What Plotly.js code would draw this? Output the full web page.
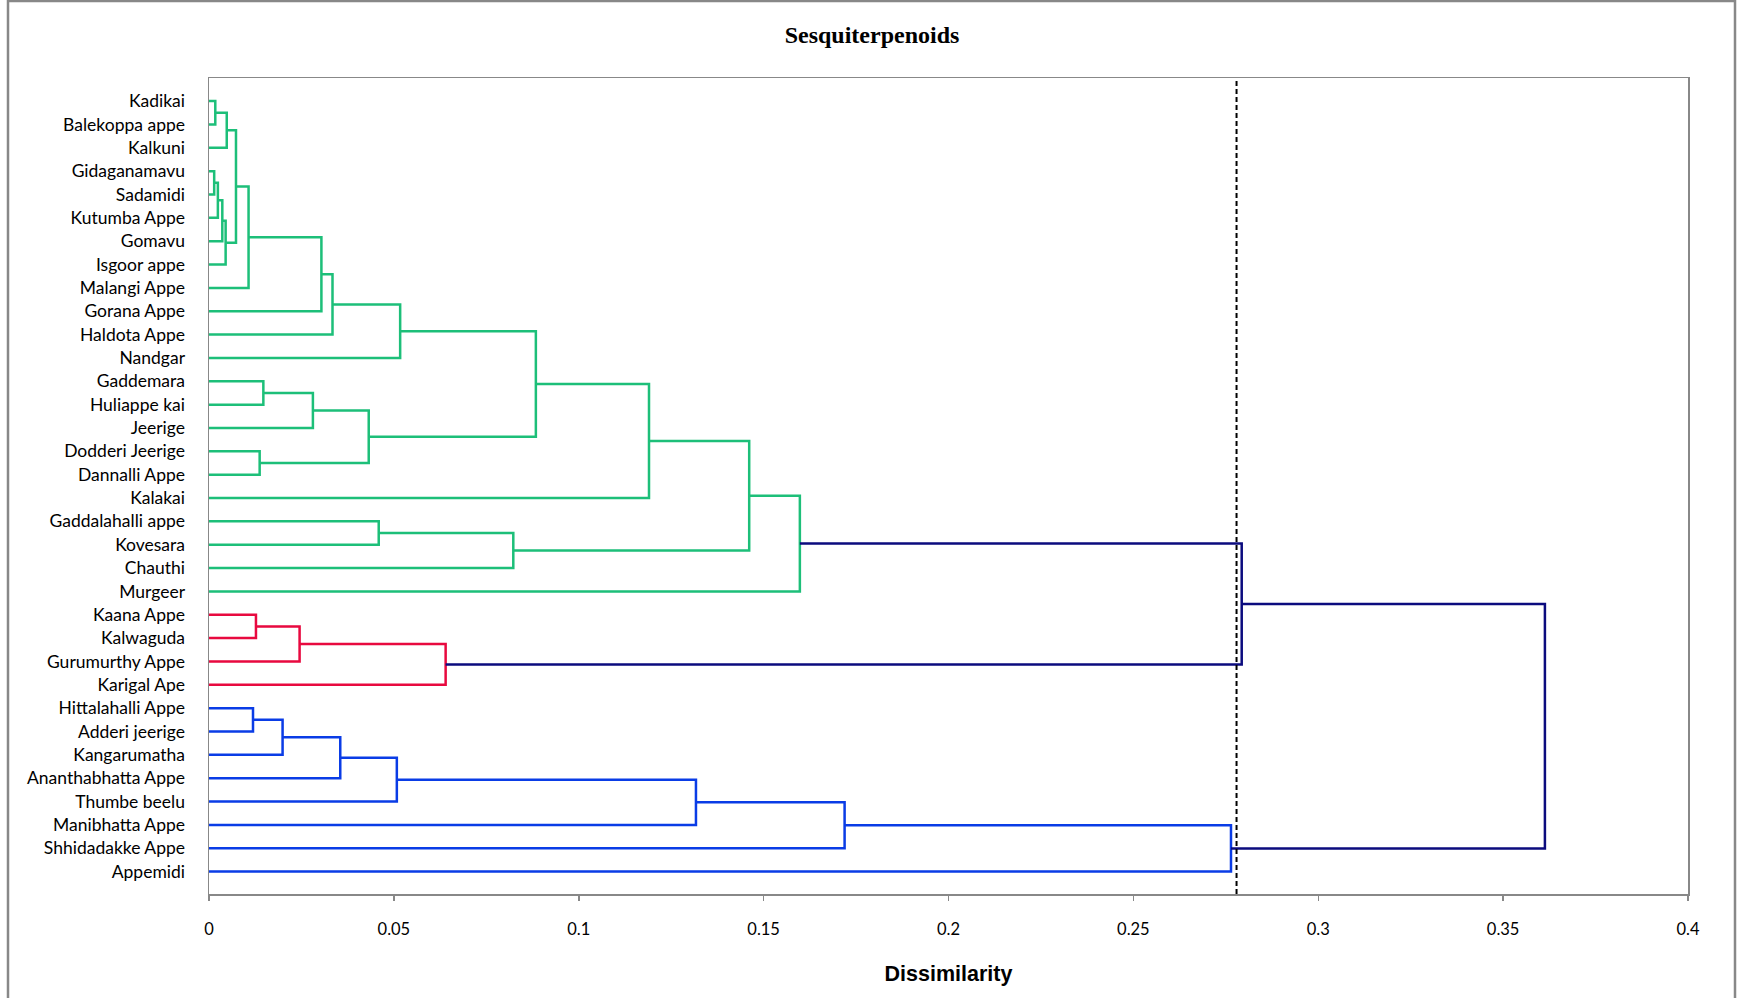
<!DOCTYPE html>
<html>
<head>
<meta charset="utf-8">
<script src="https://cdn.plot.ly/plotly-3.0.1.min.js"></script>
<style>
  html, body { margin: 0; padding: 0; background: #fff; }
  #chart { width: 1737px; height: 998px; }
</style>
</head>
<body>
<div id="chart"></div>
<script>
// Leaf labels (top to bottom)
const leafLabels = [
  "Kadikai", "Balekoppa appe", "Kalkuni", "Gidaganamavu", "Sadamidi",
  "Kutumba Appe", "Gomavu", "Isgoor appe", "Malangi Appe", "Gorana Appe",
  "Haldota Appe", "Nandgar", "Gaddemara", "Huliappe kai", "Jeerige",
  "Dodderi Jeerige", "Dannalli Appe", "Kalakai", "Gaddalahalli appe", "Kovesara",
  "Chauthi", "Murgeer", "Kaana Appe", "Kalwaguda", "Gurumurthy Appe",
  "Karigal Ape", "Hittalahalli Appe", "Adderi jeerige", "Kangarumatha", "Ananthabhatta Appe",
  "Thumbe beelu", "Manibhatta Appe", "Shhidadakke Appe", "Appemidi"
];

// Merges: node index = 34 + position in these arrays; children refer to leaves (0..33) or earlier merges
const mergeLeft   = [0, 3, 35, 36, 37, 34, 39, 40, 41, 42, 43, 12, 45, 15, 46, 44, 49, 18, 51, 50, 53, 22, 55, 56, 26, 58, 59, 60, 61, 62, 63, 54, 65];
const mergeRight  = [1, 4, 5, 6, 7, 2, 38, 8, 9, 10, 11, 13, 14, 16, 47, 48, 17, 19, 20, 52, 21, 23, 24, 25, 27, 28, 29, 30, 31, 32, 33, 57, 64];
const mergeHeight = [0.0017, 0.0014, 0.0024, 0.0036, 0.0045, 0.0048, 0.0073, 0.0107, 0.0304, 0.0334,
                     0.0517, 0.0147, 0.0281, 0.0137, 0.0432, 0.0884, 0.1190, 0.0459, 0.0823, 0.1461,
                     0.1598, 0.0127, 0.0245, 0.0640, 0.0119, 0.0199, 0.0355, 0.0508, 0.1317, 0.1719,
                     0.2764, 0.2793, 0.3613];
const mergeGroup  = ["G","G","G","G","G","G","G","G","G","G","G","G","G","G","G","G","G","G","G","G","G",
                     "R","R","R","B","B","B","B","B","B","B","N","N"];

// Truncation (cut) level
const cutLevel = 0.2779;

// X axis ticks
const xTickVals = [0, 0.05, 0.1, 0.15, 0.2, 0.25, 0.3, 0.35, 0.4];
const xTickText = ["0", "0.05", "0.1", "0.15", "0.2", "0.25", "0.3", "0.35", "0.4"];

const groupColors = { G: "#1dbf79", R: "#e8093f", B: "#0a3ce6", N: "#0b0b7e" };

// Build node positions
const nLeaves = leafLabels.length;
const nodeY = [], nodeX = [];
for (let i = 0; i < nLeaves; i++) { nodeY.push(i); nodeX.push(0); }
for (let k = 0; k < mergeHeight.length; k++) {
  const a = mergeLeft[k], b = mergeRight[k];
  nodeY.push((nodeY[a] + nodeY[b]) / 2);
  nodeX.push(mergeHeight[k]);
}

const segs = { G: {x: [], y: []}, R: {x: [], y: []}, B: {x: [], y: []}, N: {x: [], y: []} };
for (let k = 0; k < mergeHeight.length; k++) {
  const a = mergeLeft[k], b = mergeRight[k], h = mergeHeight[k];
  const s = segs[mergeGroup[k]];
  s.x.push(nodeX[a], h, h, nodeX[b], null);
  s.y.push(nodeY[a], nodeY[a], nodeY[b], nodeY[b], null);
}

const traces = Object.keys(segs).map(g => ({
  type: "scatter", mode: "lines",
  x: segs[g].x, y: segs[g].y,
  line: { color: groupColors[g], width: 2.5 },
  connectgaps: false, hoverinfo: "skip", showlegend: false
}));

// plot area geometry in px (for the outer frame shape)
const W = 1737, H = 998, mL = 209, mR = 49, mT = 78, mB = 104;
const pw = W - mL - mR, ph = H - mT - mB;

const layout = {
  width: W, height: H,
  margin: { l: mL, r: mR, t: mT, b: mB, pad: 0 },
  paper_bgcolor: "#ffffff", plot_bgcolor: "#ffffff",
  showlegend: false,
  title: {
    text: "Sesquiterpenoids",
    font: { family: "Liberation Serif, Times New Roman, serif", size: 24, color: "#000", weight: "bold" },
    xref: "container", yref: "container", x: 872 / W, y: 1 - 35 / H, xanchor: "center", yanchor: "middle"
  },
  xaxis: {
    range: [0, 0.4], autorange: false,
    tickvals: xTickVals, ticktext: xTickText,
    ticks: "outside", ticklen: 5, tickwidth: 1.5, tickcolor: "#888",
    showline: true, linecolor: "#888", linewidth: 1.5, mirror: true,
    showgrid: false, zeroline: false,
    ticklabelstandoff: 15,
    tickfont: { family: "Lato, Carlito, sans-serif", size: 16.5, color: "#000" },
    title: {
      text: "Dissimilarity",
      font: { family: "Liberation Sans, Arial, sans-serif", size: 21.5, color: "#000", weight: "bold" },
      standoff: 27
    }
  },
  yaxis: {
    range: [33.96, -0.99], autorange: false,
    tickvals: leafLabels.map((_, i) => i), ticktext: leafLabels,
    ticks: "", showline: true, linecolor: "#888", linewidth: 1.5, mirror: true,
    showgrid: false, zeroline: false,
    ticklabelstandoff: 19,
    tickfont: { family: "Lato, Carlito, sans-serif", size: 17.5, color: "#000" }
  },
  shapes: [
    { type: "line", xref: "x", yref: "paper", x0: cutLevel, x1: cutLevel, y0: 0, y1: 1,
      line: { color: "#000", width: 2, dash: "5px,3px" }, layer: "above" },
    { type: "rect", xref: "paper", yref: "paper",
      x0: (8 - mL) / pw, x1: (1735 - mL) / pw, y0: -(H + 5 - mT - ph) / ph, y1: 1 + (mT - 1) / ph,
      line: { color: "#888", width: 2.5 }, fillcolor: "rgba(0,0,0,0)", layer: "below" }
  ]
};

Plotly.newPlot("chart", traces, layout, { displayModeBar: false, staticPlot: true });
</script>
</body>
</html>
